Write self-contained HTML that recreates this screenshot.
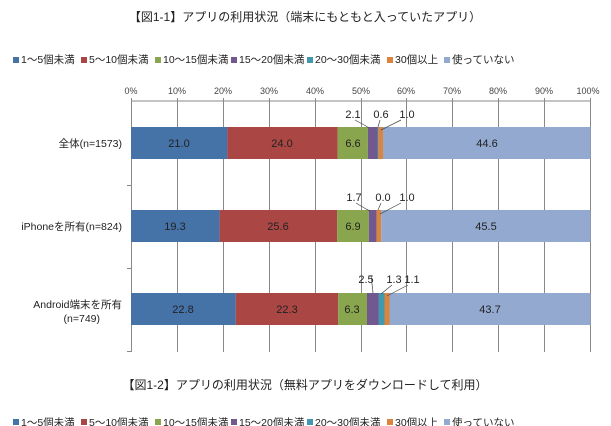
<!DOCTYPE html><html><head><meta charset="utf-8"><style>body{margin:0;background:#fff}svg{display:block;font-family:"Liberation Sans","Noto Sans CJK JP",sans-serif}</style></head><body>
<svg width="611" height="426" viewBox="0 0 611 426" xmlns="http://www.w3.org/2000/svg">
<text x="305" y="21" font-size="12" text-anchor="middle" fill="#222">【図1-1】アプリの利用状況（端末にもともと入っていたアプリ）</text>
<g font-size="10.5" fill="#222">
<rect x="13" y="57" width="6" height="6" fill="#4572a7"/><text x="21" y="63">1～5個未満</text>
<rect x="81" y="57" width="6" height="6" fill="#aa4643"/><text x="89" y="63">5～10個未満</text>
<rect x="155" y="57" width="6" height="6" fill="#89a54e"/><text x="163" y="63">10～15個未満</text>
<rect x="231" y="57" width="6" height="6" fill="#71588f"/><text x="239" y="63">15～20個未満</text>
<rect x="307" y="57" width="6" height="6" fill="#4198af"/><text x="315" y="63">20～30個未満</text>
<rect x="387" y="57" width="6" height="6" fill="#db843d"/><text x="395" y="63">30個以上</text>
<rect x="444" y="57" width="6" height="6" fill="#93a9cf"/><text x="452" y="63">使っていない</text>
</g>
<g font-size="9" fill="#444" text-anchor="middle">
<text x="131" y="94">0%</text><text x="177" y="94">10%</text><text x="223" y="94">20%</text><text x="269" y="94">30%</text><text x="315" y="94">40%</text><text x="361" y="94">50%</text><text x="406" y="94">60%</text><text x="452" y="94">70%</text><text x="498" y="94">80%</text><text x="544" y="94">90%</text><text x="588" y="94">100%</text>
</g>
<g stroke="#888" stroke-width="1">
<line x1="131.5" y1="101" x2="590.5" y2="101"/>
<line x1="131.5" y1="98" x2="131.5" y2="352"/><line x1="177.5" y1="98" x2="177.5" y2="352"/><line x1="223.5" y1="98" x2="223.5" y2="352"/><line x1="269.5" y1="98" x2="269.5" y2="352"/><line x1="315.5" y1="98" x2="315.5" y2="352"/><line x1="361.5" y1="98" x2="361.5" y2="352"/><line x1="406.5" y1="98" x2="406.5" y2="352"/><line x1="452.5" y1="98" x2="452.5" y2="352"/><line x1="498.5" y1="98" x2="498.5" y2="352"/><line x1="544.5" y1="98" x2="544.5" y2="352"/><line x1="590.5" y1="98" x2="590.5" y2="352"/>
<line x1="127" y1="185.5" x2="131" y2="185.5"/><line x1="127" y1="268.5" x2="131" y2="268.5"/><line x1="127" y1="351.5" x2="131" y2="351.5"/>
</g>
<g>
<rect x="131" y="127" width="96.4" height="32" fill="#4572a7"/><rect x="227.4" y="127" width="110.2" height="32" fill="#aa4643"/><rect x="337.6" y="127" width="30.3" height="32" fill="#89a54e"/><rect x="367.9" y="127" width="9.6" height="32" fill="#71588f"/><rect x="377.5" y="127" width="0.9" height="32" fill="#4198af"/><rect x="378.4" y="127" width="4.6" height="32" fill="#db843d"/><rect x="383" y="127" width="207.5" height="32" fill="#93a9cf"/>
<rect x="131" y="210" width="88.6" height="32" fill="#4572a7"/><rect x="219.6" y="210" width="117.5" height="32" fill="#aa4643"/><rect x="337.1" y="210" width="31.7" height="32" fill="#89a54e"/><rect x="368.8" y="210" width="7.8" height="32" fill="#71588f"/><rect x="376.6" y="210" width="4.6" height="32" fill="#db843d"/><rect x="381.2" y="210" width="209.3" height="32" fill="#93a9cf"/>
<rect x="131" y="293" width="104.7" height="32" fill="#4572a7"/><rect x="235.7" y="293" width="102.4" height="32" fill="#aa4643"/><rect x="338.1" y="293" width="28.9" height="32" fill="#89a54e"/><rect x="367" y="293" width="11.5" height="32" fill="#71588f"/><rect x="378.5" y="293" width="6" height="32" fill="#4198af"/><rect x="384.5" y="293" width="5" height="32" fill="#db843d"/><rect x="389.5" y="293" width="201" height="32" fill="#93a9cf"/>
</g>
<g font-size="11" fill="#222" text-anchor="middle">
<text x="179" y="147">21.0</text><text x="282" y="147">24.0</text><text x="353" y="147">6.6</text><text x="487" y="147">44.6</text>
<text x="175" y="230">19.3</text><text x="278" y="230">25.6</text><text x="353" y="230">6.9</text><text x="486" y="230">45.5</text>
<text x="183" y="313">22.8</text><text x="287" y="313">22.3</text><text x="352" y="313">6.3</text><text x="490" y="313">43.7</text>
<text x="353" y="118">2.1</text><text x="381" y="118">0.6</text><text x="407" y="118">1.0</text>
<text x="354" y="201">1.7</text><text x="383" y="201">0.0</text><text x="407" y="201">1.0</text>
<text x="366" y="283">2.5</text><text x="394" y="283">1.3</text><text x="412" y="283">1.1</text>
</g>
<g stroke="#444" stroke-width="0.7" fill="none">
<polyline points="355,120 366,126 369,128"/><line x1="380" y1="120" x2="378" y2="127"/><line x1="401" y1="120" x2="381" y2="130"/>
<polyline points="356,203 366,209 370,211"/><line x1="381" y1="203" x2="378" y2="210"/><line x1="401" y1="203" x2="380" y2="214"/>
<line x1="371" y1="275" x2="373" y2="293"/><line x1="392" y1="285" x2="381" y2="294"/><line x1="408" y1="285" x2="387" y2="296"/>
</g>
<g font-size="10.5" fill="#222" text-anchor="end">
<text x="122" y="147">全体(n=1573)</text>
<text x="122" y="230">iPhoneを所有(n=824)</text>
<text x="122" y="308">Android端末を所有</text>
<text x="100" y="322">(n=749)</text>
</g>
<text x="305" y="389" font-size="12" text-anchor="middle" fill="#222">【図1-2】アプリの利用状況（無料アプリをダウンロードして利用）</text>
<g font-size="10.5" fill="#222">
<rect x="13" y="419" width="6" height="6" fill="#4572a7"/><text x="21" y="426">1～5個未満</text>
<rect x="81" y="419" width="6" height="6" fill="#aa4643"/><text x="89" y="426">5～10個未満</text>
<rect x="155" y="419" width="6" height="6" fill="#89a54e"/><text x="163" y="426">10～15個未満</text>
<rect x="231" y="419" width="6" height="6" fill="#71588f"/><text x="239" y="426">15～20個未満</text>
<rect x="307" y="419" width="6" height="6" fill="#4198af"/><text x="315" y="426">20～30個未満</text>
<rect x="387" y="419" width="6" height="6" fill="#db843d"/><text x="395" y="426">30個以上</text>
<rect x="444" y="419" width="6" height="6" fill="#93a9cf"/><text x="452" y="426">使っていない</text>
</g>
</svg></body></html>
